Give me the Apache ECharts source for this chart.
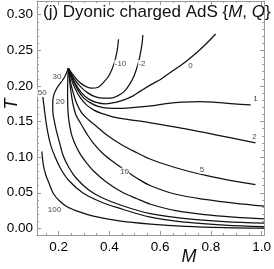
<!DOCTYPE html>
<html><head><meta charset="utf-8">
<script src="https://cdn.jsdelivr.net/npm/echarts@6/dist/echarts.min.js"></script>
<style>html,body{margin:0;padding:0;background:#fff}#c{width:274px;height:269px}</style>
</head><body><div id="c"></div>
<script>
// Curves: [M, T] pairs
const curveNeg10 = [[0.2386,0.2248],[0.2604,0.2140],[0.2795,0.2061],[0.3025,0.2000],[0.3292,0.1968],[0.3560,0.1982],[0.3790,0.2056],[0.4000,0.2154],[0.4191,0.2316],[0.4306,0.2491],[0.4363,0.2655]];
const curveNeg2 = [[0.2386,0.2248],[0.2642,0.2084],[0.2910,0.1972],[0.3178,0.1895],[0.3434,0.1850],[0.3751,0.1828],[0.4069,0.1828],[0.4325,0.1860],[0.4582,0.1920],[0.4784,0.2014],[0.4964,0.2131],[0.5155,0.2341],[0.5282,0.2575],[0.5320,0.2715]];
const curve0 = [[0.2386,0.2248],[0.2642,0.2042],[0.2910,0.1902],[0.3178,0.1818],[0.3484,0.1769],[0.3866,0.1748],[0.4249,0.1769],[0.4631,0.1811],[0.4937,0.1860],[0.5243,0.1930],[0.5626,0.2014],[0.6047,0.2098],[0.6429,0.2196],[0.6812,0.2288],[0.7118,0.2372],[0.7424,0.2463],[0.7768,0.2575],[0.8189,0.2729]];
const curve1 = [[0.2386,0.2248],[0.2566,0.2084],[0.2757,0.1944],[0.2986,0.1832],[0.3254,0.1762],[0.3560,0.1713],[0.3943,0.1688],[0.4517,0.1685],[0.5090,0.1702],[0.5626,0.1720],[0.6238,0.1751],[0.6888,0.1772],[0.7577,0.1779],[0.8189,0.1769],[0.8916,0.1748],[0.9566,0.1734]];
const curve2 = [[0.2386,0.2248],[0.2489,0.2112],[0.2642,0.1972],[0.2833,0.1846],[0.3101,0.1734],[0.3407,0.1657],[0.3751,0.1608],[0.4134,0.1566],[0.4708,0.1531],[0.5626,0.1482],[0.6888,0.1405],[0.8189,0.1313],[0.9758,0.1201]];
const curve5 = [[0.2386,0.2248],[0.2451,0.2084],[0.2566,0.1916],[0.2719,0.1748],[0.2910,0.1622],[0.3178,0.1524],[0.3445,0.1447],[0.3943,0.1299],[0.4517,0.1166],[0.5090,0.1061],[0.5626,0.0970],[0.6429,0.0872],[0.7194,0.0795],[0.7845,0.0739],[0.8801,0.0669],[0.9758,0.0613]];
const curve10 = [[0.2386,0.2248],[0.2432,0.2084],[0.2489,0.1916],[0.2566,0.1748],[0.2680,0.1594],[0.2833,0.1496],[0.2948,0.1426],[0.3139,0.1313],[0.3331,0.1215],[0.3713,0.1061],[0.4096,0.0949],[0.4593,0.0823],[0.5090,0.0704],[0.5626,0.0599],[0.6621,0.0479],[0.7845,0.0402],[0.8916,0.0353],[1.01,0.0311]];
const curve20 = [[0.2386,0.2248],[0.2363,0.2084],[0.2355,0.1916],[0.2359,0.1748],[0.2382,0.1594],[0.2432,0.1454],[0.2527,0.1299],[0.2680,0.1159],[0.2872,0.1033],[0.3101,0.0921],[0.3369,0.0809],[0.3866,0.0655],[0.4478,0.0514],[0.5090,0.0416],[0.5626,0.0339],[0.6621,0.0248],[0.7768,0.0192],[0.8916,0.0157],[1.01,0.0132]];
const curve30 = [[0.2386,0.2248],[0.2259,0.2140],[0.2106,0.2056],[0.1953,0.1979],[0.1839,0.1902],[0.1781,0.1818],[0.1770,0.1720],[0.1781,0.1608],[0.1839,0.1496],[0.1915,0.1369],[0.2030,0.1215],[0.2183,0.1019],[0.2412,0.0851],[0.2680,0.0711],[0.3178,0.0542],[0.3713,0.0430],[0.4517,0.0318],[0.5626,0.0206],[0.7003,0.0136],[0.8533,0.0094],[1.01,0.0073]];
const curve50 = [[0.1380,0.1846],[0.1429,0.1706],[0.1494,0.1524],[0.1571,0.1355],[0.1686,0.1173],[0.1877,0.0991],[0.2106,0.0823],[0.2412,0.0669],[0.2948,0.0500],[0.3560,0.0388],[0.4325,0.0290],[0.5626,0.0157],[0.7003,0.0087],[0.8533,0.0045],[1.01,0.0024]];
const curve100 = [[0.1341,0.1080],[0.1399,0.0893],[0.1494,0.0753],[0.1647,0.0613],[0.1800,0.0486],[0.2030,0.0388],[0.2336,0.0304],[0.2795,0.0234],[0.3369,0.0171],[0.4325,0.0108],[0.5626,0.0059],[0.7003,0.0027],[0.8533,0.0010],[1.01,0.0003]];

const contourNames = ['-10','-2','0','1','2','5','10','20','30','50','100'];
const labelPositions = [[0.444,0.2309],[0.5282,0.2309],[0.7194,0.2281],[0.9758,0.1818],[0.9719,0.1292],[0.7653,0.0823],[0.4593,0.0795],[0.2068,0.1776],[0.1934,0.2122],[0.1353,0.1902],[0.1839,0.0262]];

const xMajorTicks = [0.2,0.4,0.6,0.8,1.0];
const xMinorTicks = [0.15,0.25,0.3,0.35,0.45,0.5,0.55,0.65,0.7,0.75,0.85,0.9,0.95];
const yMajorTicks = [0,0.05,0.1,0.15,0.2,0.25,0.3];
const yMinorTicks = [0.01,0.02,0.03,0.04,0.06,0.07,0.08,0.09,0.11,0.12,0.13,0.14,0.16,0.17,0.18,0.19,0.21,0.22,0.23,0.24,0.26,0.27,0.28,0.29,0.31];

const curves = [curveNeg10, curveNeg2, curve0, curve1, curve2, curve5, curve10, curve20, curve30, curve50, curve100];

const X_MIN = 0.115, X_MAX = 1.01, Y_MIN = -0.0093, Y_MAX = 0.3192;
const FRAME = '#9a9a9a';
const FONT = 'Liberation Sans, Arial, Helvetica, sans-serif';

function mkAxis(isX, pos, ticks, len, showLine, labels) {
  return {
    type: 'value', position: pos, min: isX ? X_MIN : Y_MIN, max: isX ? X_MAX : Y_MAX,
    axisLine: { show: showLine, onZero: false, lineStyle: { color: FRAME, width: 1 } },
    axisTick: { show: true, inside: true, length: len, customValues: ticks, lineStyle: { color: FRAME, width: 1 } },
    axisLabel: labels ? {
      show: true, customValues: ticks, color: '#000', fontSize: 13.5, fontFamily: FONT,
      margin: isX ? 5 : 4, formatter: v => isX ? v.toFixed(1) : v.toFixed(2)
    } : { show: false },
    splitLine: { show: false }, minorTick: { show: false }
  };
}

const chart = echarts.init(document.getElementById('c'), null, { renderer: 'canvas' });
const series = curves.map(c => ({
  type: 'line', data: c, showSymbol: false, smooth: 0.35, clip: true, silent: true,
  lineStyle: { color: '#111', width: 1.25 }, xAxisIndex: 0, yAxisIndex: 0, z: 2
}));
series.push({
  type: 'scatter', symbolSize: 0, silent: true, z: 5,
  data: labelPositions.map((p, i) => ({ value: p, name: contourNames[i] })),
  label: { show: true, position: 'inside', formatter: '{b}', fontSize: 8, fontFamily: FONT, color: '#111', backgroundColor: '#fff', padding: [0, 0.5] }
});

chart.setOption({
  animation: false,
  backgroundColor: '#fff',
  grid: { left: 37, right: 3, top: 1, bottom: 34, containLabel: false },
  xAxis: [
    mkAxis(true, 'bottom', xMajorTicks, 4, true, true),
    mkAxis(true, 'bottom', xMinorTicks, 2, false, false),
    mkAxis(true, 'top', xMajorTicks, 4, true, false),
    mkAxis(true, 'top', xMinorTicks, 2, false, false)
  ],
  yAxis: [
    mkAxis(false, 'left', yMajorTicks, 4, true, true),
    mkAxis(false, 'left', yMinorTicks, 2, false, false),
    mkAxis(false, 'right', yMajorTicks, 4, true, false),
    mkAxis(false, 'right', yMinorTicks, 2, false, false)
  ],
  series: series,
  graphic: [
    { type: 'text', left: 43, top: 4, z: 10, style: {
      text: '(j) Dyonic charged AdS {{i|M}, {i|Q}}', fill: '#111', font: '17px ' + FONT,
      rich: { i: { fontStyle: 'italic', fontSize: 17, fontFamily: FONT, fill: '#111' } } } },
    { type: 'text', x: 12, y: 104, rotation: Math.PI / 2, z: 10, style: {
      text: 'T', fill: '#111', font: 'italic 18px ' + FONT, align: 'center', verticalAlign: 'middle' } },
    { type: 'text', x: 189, y: 257, z: 10, style: {
      text: 'M', fill: '#111', font: 'italic 18px ' + FONT, align: 'center', verticalAlign: 'middle' } }
  ]
});
</script>
</body></html>
